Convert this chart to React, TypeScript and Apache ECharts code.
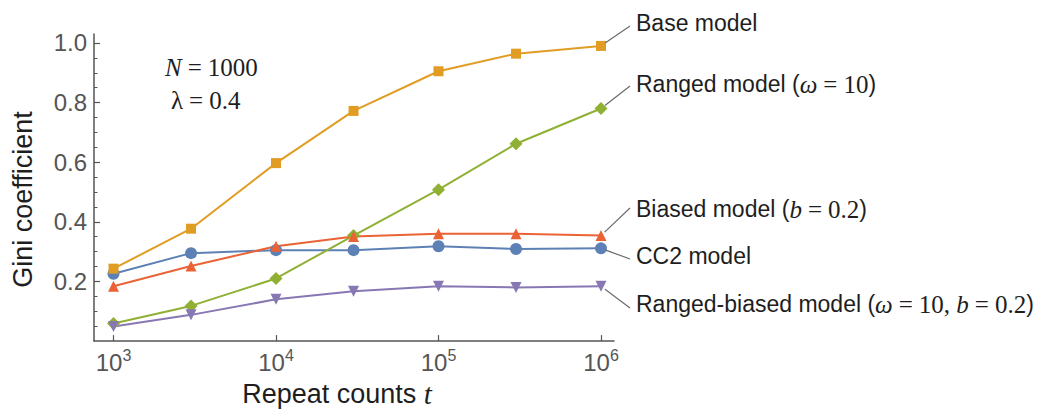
import React, { useEffect, useRef } from "react";
import * as echarts from "echarts";

const repeatCounts = [1e3, 3e3, 1e4, 3e4, 1e5, 3e5, 1e6];
const cc2Values = [0.226, 0.295, 0.305, 0.305, 0.318, 0.309, 0.311];
const baseValues = [0.243, 0.377, 0.597, 0.772, 0.905, 0.964, 0.99];
const rangedValues = [0.059, 0.118, 0.21, 0.354, 0.508, 0.662, 0.78];
const biasedValues = [0.184, 0.252, 0.318, 0.351, 0.36, 0.36, 0.354];
const rangedBiasedValues = [0.049, 0.088, 0.14, 0.167, 0.184, 0.18, 0.184];
const yTickLabels = [0.2, 0.4, 0.6, 0.8, 1.0];
const yMinorTicks = [0.05, 0.1, 0.15, 0.25, 0.3, 0.35, 0.45, 0.5, 0.55, 0.65, 0.7, 0.75, 0.85, 0.9, 0.95];
const xTickExponents = [3, 4, 5, 6];

const C_BLUE = "#5E81B5";
const C_ORANGE = "#E19C24";
const C_GREEN = "#8FB032";
const C_RED = "#EB6235";
const C_PURPLE = "#8778B3";

const SANS = "'Liberation Sans', Arial, sans-serif";
const SERIF = "'Liberation Serif', 'DejaVu Serif', serif";

const toPts = (vals: number[]) => repeatCounts.map((t, i) => [Math.log10(t), vals[i]]);

const seriesDefs = [
  { name: "CC2 model", values: cc2Values, color: C_BLUE, symbol: "circle", size: 12, rotate: 0,
    label: "{a|CC2 model}", labelY: 256, endY: 259 },
  { name: "Base model", values: baseValues, color: C_ORANGE, symbol: "rect", size: 10, rotate: 0,
    label: "{a|Base model}", labelY: 23, endY: 26 },
  { name: "Ranged model", values: rangedValues, color: C_GREEN, symbol: "diamond", size: 13, rotate: 0,
    label: "{a|Ranged model (}{m|ω}{e|=}{r|10}{a|)}", labelY: 84, endY: 86 },
  { name: "Biased model", values: biasedValues, color: C_RED, symbol: "triangle", size: 11, rotate: 0,
    label: "{a|Biased model (}{m|b}{e|=}{r|0.2}{a|)}", labelY: 209, endY: 208 },
  { name: "Ranged-biased model", values: rangedBiasedValues, color: C_PURPLE, symbol: "triangle", size: 11, rotate: 180,
    label: "{a|Ranged-biased model (}{m|ω}{e|=}{r|10, }{m|b}{e|=}{r|0.2}{a|)}", labelY: 304, endY: 308 },
];

const TXT = "#1e1e1e";
const labelRich = {
  a: { fontFamily: SANS, fontSize: 23, fill: TXT },
  m: { fontFamily: SERIF, fontStyle: "italic", fontSize: 25, fill: TXT },
  r: { fontFamily: SERIF, fontSize: 25, fill: TXT },
  e: { fontFamily: SERIF, fontSize: 25, fill: TXT, padding: [0, 6, 0, 6] },
};

export default function App() {
  const ref = useRef<HTMLDivElement>(null);
  useEffect(() => {
    if (!ref.current) return;
    const chart = echarts.init(ref.current, undefined, { renderer: "svg" });
    const axisColor = "#555555";
    const option: any = {
      animation: false,
      backgroundColor: "#ffffff",
      grid: { left: 94, right: 427, top: 34, bottom: 65, containLabel: false },
      xAxis: {
        type: "value",
        min: 2.88,
        max: 6.08,
        name: "Repeat counts {i|t}",
        nameLocation: "middle",
        nameGap: 34,
        nameTextStyle: {
          fontFamily: SANS, fontSize: 27, color: TXT,
          padding: [0, 34, 0, 0],
          rich: { i: { fontFamily: SERIF, fontStyle: "italic", fontSize: 29, color: TXT } },
        },
        axisLine: { show: true, onZero: false, lineStyle: { color: axisColor, width: 1.5 } },
        axisTick: { show: true, inside: true, length: 6, customValues: xTickExponents, lineStyle: { color: axisColor, width: 1.2 } },
        axisLabel: {
          customValues: xTickExponents,
          margin: 6,
          formatter: (v: number) => `{b|10}{s|${Math.round(v)}}`,
          rich: {
            b: { fontFamily: SANS, fontSize: 24, color: "#555555", lineHeight: 27, verticalAlign: "bottom" },
            s: { fontFamily: SANS, fontSize: 16, color: "#555555", lineHeight: 27, verticalAlign: "top" },
          },
        },
        splitLine: { show: false },
      },
      yAxis: [
        {
          type: "value",
          min: 0,
          max: 1.03,
          name: "Gini coefficient",
          nameLocation: "middle",
          nameGap: 58,
          nameTextStyle: { fontFamily: SANS, fontSize: 27, color: TXT, padding: [0, 24, 0, 0] },
          axisLine: { show: true, onZero: false, lineStyle: { color: axisColor, width: 1.5 } },
          axisTick: { show: true, inside: true, length: 6, customValues: yTickLabels, lineStyle: { color: axisColor, width: 1.2 } },
          axisLabel: {
            customValues: yTickLabels,
            margin: 7,
            fontFamily: SANS,
            fontSize: 24,
            color: "#555555",
            formatter: (v: number) => v.toFixed(1),
          },
          splitLine: { show: false },
        },
        {
          type: "value",
          min: 0,
          max: 1.03,
          position: "left",
          offset: 0,
          axisLine: { show: false },
          axisTick: { show: true, inside: true, length: 3.5, customValues: yMinorTicks, lineStyle: { color: axisColor, width: 1 } },
          axisLabel: { show: false },
          splitLine: { show: false },
        },
      ],
      series: seriesDefs.map((s) => ({
        name: s.name,
        type: "line",
        xAxisIndex: 0,
        yAxisIndex: 0,
        data: toPts(s.values),
        symbol: s.symbol,
        symbolSize: s.size,
        symbolRotate: s.rotate,
        showAllSymbol: true,
        lineStyle: { color: s.color, width: 2 },
        itemStyle: { color: s.color },
      })),
    };
    chart.setOption(option);

    const graphics: any[] = [];
    seriesDefs.forEach((s) => {
      const last = toPts(s.values)[repeatCounts.length - 1];
      const p = chart.convertToPixel({ gridIndex: 0 }, last) as number[];
      const ex = 630;
      const ey = s.endY;
      const dx = ex - p[0];
      const dy = ey - p[1];
      const len = Math.sqrt(dx * dx + dy * dy);
      const sx = p[0] + (dx / len) * 5;
      const sy = p[1] + (dy / len) * 5;
      graphics.push({
        type: "line",
        shape: { x1: sx, y1: sy, x2: ex, y2: ey },
        style: { stroke: "#6b6b6b", lineWidth: 1.2 },
        z: 10,
      });
      graphics.push({
        type: "text",
        x: 636,
        y: s.labelY,
        style: {
          text: s.label,
          rich: labelRich,
          verticalAlign: "middle",
          align: "left",
        },
        z: 10,
      });
    });
    const mathRich = {
      m: { fontFamily: SERIF, fontStyle: "italic", fontSize: 25, fill: TXT },
      r: { fontFamily: SERIF, fontSize: 25, fill: TXT },
      e: { fontFamily: SERIF, fontSize: 25, fill: TXT, padding: [0, 6, 0, 6] },
    };
    graphics.push({
      type: "text",
      x: 165,
      y: 67,
      style: { text: "{m|N}{e|=}{r|1000}", rich: mathRich, verticalAlign: "middle" },
    });
    graphics.push({
      type: "text",
      x: 171,
      y: 100,
      style: { text: "{r|λ}{e|=}{r|0.4}", rich: mathRich, verticalAlign: "middle" },
    });
    chart.setOption({ graphic: graphics });

    return () => chart.dispose();
  }, []);
  return (
    <div
      ref={ref}
      style={{ position: "fixed", left: 0, top: 0, width: 1041, height: 413 }}
    />
  );
}
